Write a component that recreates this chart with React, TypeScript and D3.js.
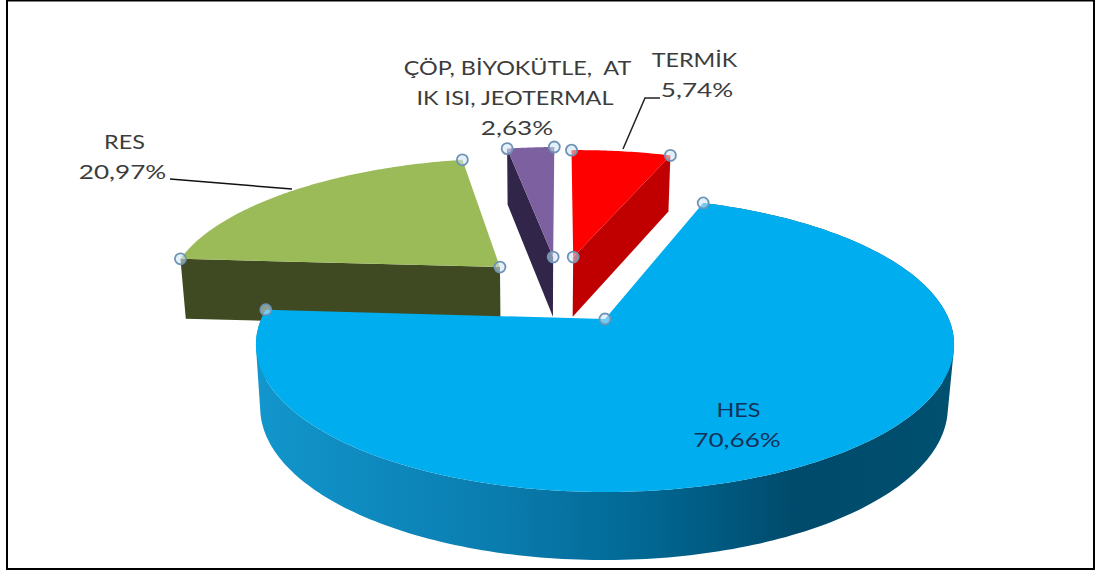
import React from "react";
import * as d3 from "d3";

// Generation shares (percent)
const categories = ["HES", "RES", "ÇÖP, BİYOKÜTLE, JEOTERMAL", "TERMİK"];
const shares = [70.66, 20.97, 2.63, 5.74];
const shareLabels = ["70,66%", "20,97%", "2,63%", "5,74%"];
const topColors = ["#00aeef", "#9bbb59", "#7d60a0", "#ff0000"];
const faceColors = ["#0b7fb0", "#3f4a22", "#31254a", "#c00000"];

const W = 1099;
const H = 574;
const FIRST_SLICE_DEG = 19.4;

// Projection of the unit disc onto the page: a homography that keeps the hub off the
// visual centre of the ellipse, so the far half of the pie is foreshortened.
const hub = { x: 605, y: 319 };
const K = 0.173;
const A = 143.1;
const B = 343.8;
type P = { x: number; y: number };
const project = (u: number, v: number): P => {
  const w = 1 + K * v;
  return { x: hub.x + (B * u) / w, y: hub.y - (A * v) / w };
};
// The lower rim of the pie's wall, derived from a point on the upper surface.
const drop = (p: P): P => ({ x: 604 + (p.x - 605) * 0.985, y: p.y * 1.035 + 50.8 });

// How far each wedge is pulled out of the pie, in disc units, and its radius.
const pullOut: [number, number][] = [
  [0, 0],
  [-0.326, 0.387],
  [-0.163, 0.468],
  [-0.1, 0.468],
];
const wedgeRadius = [1, 1.008, 1.05, 1.015];

const pieAngles = d3
  .pie<number>()
  .sort(null)
  .startAngle((FIRST_SLICE_DEG * Math.PI) / 180)
  .endAngle(((FIRST_SLICE_DEG + 360) * Math.PI) / 180)(shares);

const rimPoints = (i: number, n = 90): P[] => {
  const a = pieAngles[i];
  return d3.range(n + 1).map((k) => {
    const t = a.startAngle + ((a.endAngle - a.startAngle) * k) / n;
    return project(pullOut[i][0] + wedgeRadius[i] * Math.sin(t), pullOut[i][1] + wedgeRadius[i] * Math.cos(t));
  });
};
const apex = (i: number): P => project(pullOut[i][0], pullOut[i][1]);

const line = d3
  .line<P>()
  .x((d) => d.x)
  .y((d) => d.y);
const closed = (pts: P[]) => line(pts) + "Z";

// A wall quad wound in a fixed direction, so all quads merge under the nonzero fill rule.
const wound = (q: P[]): P[] => (d3.polygonArea(q.map((p) => [p.x, p.y] as [number, number])) < 0 ? [...q].reverse() : q);

const Handle = ({ p }: { p: P }) => (
  <circle cx={p.x} cy={p.y} r={5.5} fill="#cfe6f5" fillOpacity={0.55} stroke="#6f93b5" strokeWidth={1.8} />
);

const fontFamily = "Lato, Carlito, Calibri, sans-serif";

// One line of label text, widened horizontally around its centre.
const TextLine = ({ x, y, t, sx = 1.2, fill = "#3c3c3c" }: { x: number; y: number; t: string; sx?: number; fill?: string }) => (
  <text
    transform={`translate(${x},${y}) scale(${sx},1)`}
    textAnchor="middle"
    fontFamily={fontFamily}
    fontSize={19.5}
    fill={fill}
    style={{ whiteSpace: "pre" }}
  >
    {t}
  </text>
);

const DIGIT_WIDEN = 1.34;

export default function App() {
  const hesRim = rimPoints(0, 240);
  const resRim = rimPoints(1);
  const copRim = rimPoints(2, 20);
  const terRim = rimPoints(3, 30);
  const hesWall = d3
    .pairs(hesRim)
    .map(([a, b]) => closed(wound([a, b, drop(b), drop(a)])))
    .join("");
  const resFront = [resRim[0], apex(1), drop(apex(1)), drop(resRim[0])];
  const copFace = [copRim[0], apex(2), drop(apex(2)), drop(copRim[0])];
  const terFace = [terRim[terRim.length - 1], apex(3), drop(apex(3)), drop(terRim[terRim.length - 1])];

  return (
    <svg width={W} height={H} style={{ position: "fixed", left: 0, top: 0, display: "block", background: "#fff" }}>
      <defs>
        <linearGradient id="wall" gradientUnits="userSpaceOnUse" x1={258} x2={950} y1={0} y2={0}>
          <stop offset="0" stopColor="#1296cc" />
          <stop offset="0.35" stopColor="#0a7cae" />
          <stop offset="0.58" stopColor="#006590" />
          <stop offset="0.78" stopColor="#004a6b" />
          <stop offset="1" stopColor="#00506f" />
        </linearGradient>
      </defs>

      <rect x={7} y={0.5} width={1087} height={568.5} fill="#fff" stroke="#000" strokeWidth={2} />

      {/* Pulled-out wedges: walls first, surfaces on top */}
      <path d={closed(resFront)} fill={faceColors[1]} />
      <path d={closed([apex(1), ...resRim])} fill={topColors[1]} />
      <path d={closed(copFace)} fill={faceColors[2]} />
      <path d={closed([apex(2), ...copRim])} fill={topColors[2]} />
      <path d={closed(terFace)} fill={faceColors[3]} />
      <path d={closed([apex(3), ...terRim])} fill={topColors[3]} />

      {/* Main wedge: the wall is one path of thin quads so its silhouette stays tangent */}
      <path d={hesWall} fill="url(#wall)" />
      <path d={closed([apex(0), ...hesRim])} fill={topColors[0]} />

      {/* Leader lines */}
      <path d="M170,179 L292,189" fill="none" stroke="#111" strokeWidth={1.5} />
      <path d="M660,98 L645,98 L623,149" fill="none" stroke="#222" strokeWidth={1.5} />

      {/* Selection handles on the wedge corners */}
      {[hesRim, resRim, copRim, terRim].map((rim, i) => (
        <g key={categories[i]}>
          <Handle p={rim[0]} />
          <Handle p={rim[rim.length - 1]} />
          <Handle p={apex(i)} />
        </g>
      ))}

      <TextLine x={124.5} y={149} t={categories[1]} />
      <TextLine x={122.5} y={179} t={shareLabels[1]} sx={DIGIT_WIDEN} />
      <TextLine x={517.5} y={75} t="ÇÖP, BİYOKÜTLE,  AT" />
      <TextLine x={515} y={105} t="IK ISI, JEOTERMAL" />
      <TextLine x={517} y={135} t={shareLabels[2]} sx={DIGIT_WIDEN} />
      <TextLine x={694.5} y={67} t={categories[3]} />
      <TextLine x={697} y={97} t={shareLabels[3]} sx={DIGIT_WIDEN} />
      <TextLine x={738.5} y={417} t={categories[0]} fill="#14315a" />
      <TextLine x={737} y={447} t={shareLabels[0]} sx={DIGIT_WIDEN} fill="#14315a" />
    </svg>
  );
}
